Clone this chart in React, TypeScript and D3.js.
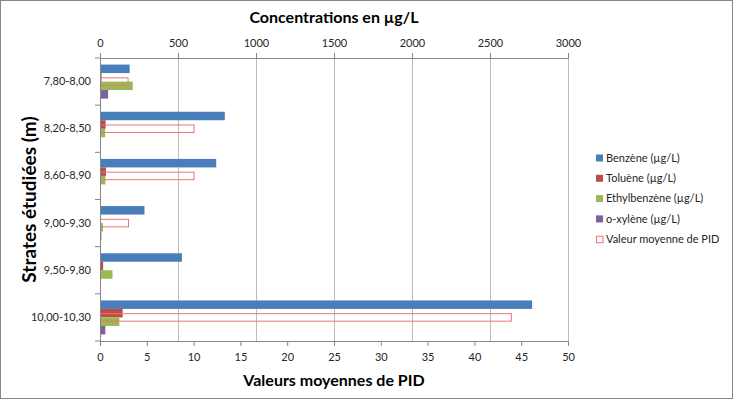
import React, { useEffect, useRef } from "react";
import * as d3 from "d3";

// Depth intervals (categories) and measured values
const strates = ["7,80-8,00", "8,20-8,50", "8,60-8,90", "9,00-9,30", "9,50-9,80", "10,00-10,30"];
const benzene = [190, 800, 745, 285, 525, 2770];
const toluene = [10, 36, 38, 0, 20, 145];
const ethylbenzene = [210, 33, 35, 19, 80, 124];
const oxylene = [52, 5, 5, 9, 0, 34];
const pid = [3.05, 10.1, 10.1, 3.1, 0, 44];

const concTicks = [0, 500, 1000, 1500, 2000, 2500, 3000];
const pidTicks = [0, 5, 10, 15, 20, 25, 30, 35, 40, 45, 50];

const seriesNames = ["Benzène (µg/L)", "Toluène (µg/L)", "Ethylbenzène (µg/L)", "o-xylène (µg/L)"];
const seriesColors = ["#4a7ebb", "#be4b48", "#98b954", "#7d60a0"];
const pidName = "Valeur moyenne de PID";
const pidColor = "#e8777a";

const FONT = "Lato, 'Open Sans', sans-serif";

const App = () => {
  const svgRef = useRef<SVGSVGElement>(null);
  const width = 733;
  const height = 399;

  useEffect(() => {
    const svg = d3.select(svgRef.current);
    svg.selectAll("*").remove();

    const plot = { left: 100, right: 568, top: 58, bottom: 341 };
    const axisColor = "#868686";

    // Outer frame
    svg.append("rect")
      .attr("x", 0.5).attr("y", 0.5)
      .attr("width", width - 1).attr("height", height - 1)
      .attr("fill", "#fff").attr("stroke", axisColor);

    // Scales
    const xConc = d3.scaleLinear().domain([0, 3000]).range([plot.left, plot.right]);
    const xPid = d3.scaleLinear().domain([0, 50]).range([plot.left, plot.right]);
    const yCat = d3.scaleBand().domain(strates).range([plot.top, plot.bottom]).padding(0);
    const bw = yCat.bandwidth();
    const ySeries = d3.scaleBand().domain(seriesNames).range([0, bw]).paddingInner(0).paddingOuter(0.775);
    const yPid = d3.scaleBand().domain([pidName]).range([0, bw]).paddingInner(0).paddingOuter(2.275);

    // Vertical gridlines from the concentration axis
    svg.append("g")
      .selectAll("line")
      .data(concTicks.slice(1))
      .enter()
      .append("line")
      .attr("x1", (d) => xConc(d)).attr("x2", (d) => xConc(d))
      .attr("y1", plot.top).attr("y2", plot.bottom)
      .attr("stroke", "#bdbdbd").attr("stroke-width", 1)
      .attr("shape-rendering", "crispEdges");

    // Concentration bars
    const series = [benzene, toluene, ethylbenzene, oxylene];
    series.forEach((vals, i) => {
      svg.append("g")
        .selectAll("rect")
        .data(vals)
        .enter()
        .append("rect")
        .attr("x", xConc(0))
        .attr("y", (d, j) => yCat(strates[j])! + ySeries(seriesNames[i])!)
        .attr("width", (d) => xConc(d) - xConc(0))
        .attr("height", ySeries.bandwidth())
        .attr("fill", seriesColors[i]);
    });

    // PID bars (outline, secondary axis)
    svg.append("g")
      .selectAll("rect")
      .data(pid)
      .enter()
      .append("rect")
      .attr("x", xPid(0) + 0.5)
      .attr("y", (d, j) => yCat(strates[j])! + yPid(pidName)! + 0.5)
      .attr("width", (d) => Math.max(0, xPid(d) - xPid(0) - 1))
      .attr("height", yPid.bandwidth() - 1)
      .attr("fill", "none")
      .attr("stroke", pidColor)
      .attr("stroke-width", 1)
      .style("display", (d) => (d > 0 ? null : "none"));

    // Top axis (concentrations)
    const top = svg.append("g")
      .attr("transform", `translate(0, ${plot.top})`)
      .call(d3.axisTop(xConc).tickValues(concTicks).tickFormat(d3.format("d")).tickSize(5).tickPadding(6));
    // Bottom axis (PID)
    const bottom = svg.append("g")
      .attr("transform", `translate(0, ${plot.bottom})`)
      .call(d3.axisBottom(xPid).tickValues(pidTicks).tickFormat(d3.format("d")).tickSize(5).tickPadding(7));
    // Left axis (categories)
    const left = svg.append("g")
      .attr("transform", `translate(${plot.left}, 0)`)
      .call(d3.axisLeft(yCat).tickSize(0).tickPadding(9));

    [top, bottom, left].forEach((ax) => {
      ax.select(".domain").attr("stroke", axisColor);
      ax.selectAll("line").attr("stroke", axisColor);
      ax.selectAll("text")
        .attr("fill", "#262626")
        .style("font-family", FONT)
        .style("font-size", "11px");
    });

    // Category separator ticks
    svg.append("g")
      .selectAll("line")
      .data(d3.range(strates.length + 1))
      .enter()
      .append("line")
      .attr("x1", plot.left - 5).attr("x2", plot.left)
      .attr("y1", (i) => plot.top + i * bw).attr("y2", (i) => plot.top + i * bw)
      .attr("stroke", axisColor);

    // Axis titles
    svg.append("text")
      .attr("x", (plot.left + plot.right) / 2).attr("y", 23)
      .attr("text-anchor", "middle")
      .style("font-family", FONT).style("font-size", "16px").style("font-weight", "bold")
      .attr("fill", "#000")
      .text("Concentrations en µg/L");

    svg.append("text")
      .attr("x", (plot.left + plot.right) / 2).attr("y", 386)
      .attr("text-anchor", "middle")
      .style("font-family", FONT).style("font-size", "16px").style("font-weight", "bold")
      .attr("fill", "#000")
      .text("Valeurs moyennes de PID");

    svg.append("text")
      .attr("transform", `translate(36, ${(plot.top + plot.bottom) / 2}) rotate(-90)`)
      .attr("text-anchor", "middle")
      .style("font-family", FONT).style("font-size", "19px").style("font-weight", "bold")
      .attr("fill", "#000")
      .text("Strates étudiées (m)");

    // Legend
    const legendItems = [...seriesNames, pidName];
    const legend = svg.append("g").attr("transform", "translate(596, 158)");
    legendItems.forEach((name, i) => {
      const row = legend.append("g").attr("transform", `translate(0, ${i * 20.3})`);
      if (i < 4) {
        row.append("rect").attr("x", 0).attr("y", -3.5).attr("width", 7).attr("height", 7)
          .attr("fill", seriesColors[i]);
      } else {
        row.append("rect").attr("x", 0.5).attr("y", -3).attr("width", 6.5).attr("height", 6.5)
          .attr("fill", "#fff").attr("stroke", pidColor);
      }
      row.append("text")
        .attr("x", 10).attr("y", 0).attr("dy", "0.35em")
        .style("font-family", FONT).style("font-size", "11px")
        .attr("fill", "#262626")
        .text(name);
    });
  }, []);

  return (
    <div style={{ position: "absolute", left: 0, top: 0 }}>
      <svg ref={svgRef} width={width} height={height} style={{ display: "block" }}></svg>
    </div>
  );
};

export default App;
